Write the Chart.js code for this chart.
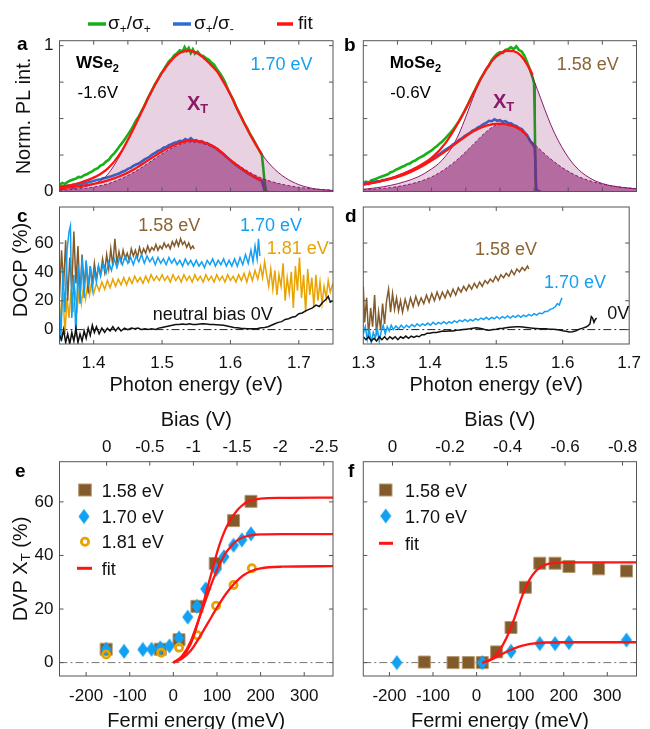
<!DOCTYPE html>
<html><head><meta charset="utf-8">
<script src="https://cdn.jsdelivr.net/npm/chart.js@4.4.0/dist/chart.umd.min.js"></script>
<style>
html,body{margin:0;padding:0;background:#fff;overflow:hidden;}
#wrap{position:relative;width:650px;height:729px;}
canvas{position:absolute;left:0;top:0;}
</style></head><body><div id="wrap">
<canvas id="ca" width="650" height="729"></canvas>
<canvas id="cb" width="650" height="729"></canvas>
<canvas id="cc" width="650" height="729"></canvas>
<canvas id="cd" width="650" height="729"></canvas>
<canvas id="ce" width="650" height="729"></canvas>
<canvas id="cf" width="650" height="729"></canvas>
</div>
<script>
// ---------------- DATA ----------------
// Panel a (WSe2, -1.6V): photon energy (eV), normalized PL
const aCoCo = [[1.350,.045],[1.354,.058],[1.358,.052],[1.362,.066],[1.366,.075],[1.370,.082],[1.374,.088],[1.378,.100],[1.382,.098],[1.386,.112],[1.390,.118],[1.394,.130],[1.398,.138],[1.402,.152],[1.406,.160],[1.410,.178],[1.414,.186],[1.418,.205],[1.422,.218],[1.426,.242],[1.430,.262],[1.434,.285],[1.438,.312],[1.442,.335],[1.446,.362],[1.450,.390],[1.454,.418],[1.458,.452],[1.462,.488],[1.466,.515],[1.470,.552],[1.474,.585],[1.478,.628],[1.482,.665],[1.486,.700],[1.490,.738],[1.494,.768],[1.498,.805],[1.502,.832],[1.506,.862],[1.510,.892],[1.514,.908],[1.518,.935],[1.522,.948],[1.526,.968],[1.530,.960],[1.533,.990],[1.536,.965],[1.539,.985],[1.542,.950],[1.545,.975],[1.548,.945],[1.552,.960],[1.556,.935],[1.560,.930],[1.564,.915],[1.568,.905],[1.572,.885],[1.576,.870],[1.580,.840],[1.584,.815],[1.588,.785],[1.592,.750],[1.596,.705],[1.600,.665],[1.604,.630],[1.608,.585],[1.612,.545],[1.616,.510],[1.620,.470],[1.624,.440],[1.628,.400],[1.632,.370],[1.636,.335],[1.640,.300],[1.644,.265],[1.646,.250],[1.648,.160],[1.650,.060],[1.652,.005],[1.654,0]];
const aCoCross = [[1.350,.030],[1.354,.036],[1.358,.030],[1.362,.040],[1.366,.038],[1.370,.045],[1.374,.042],[1.378,.052],[1.382,.050],[1.386,.058],[1.390,.060],[1.394,.066],[1.398,.070],[1.402,.075],[1.406,.080],[1.410,.084],[1.414,.090],[1.418,.094],[1.422,.100],[1.426,.105],[1.430,.112],[1.434,.118],[1.438,.125],[1.442,.135],[1.446,.142],[1.450,.155],[1.454,.162],[1.458,.175],[1.462,.185],[1.466,.192],[1.470,.205],[1.474,.218],[1.478,.228],[1.482,.240],[1.486,.255],[1.490,.265],[1.494,.278],[1.498,.285],[1.502,.300],[1.506,.305],[1.510,.318],[1.514,.325],[1.518,.335],[1.522,.338],[1.526,.348],[1.530,.345],[1.534,.360],[1.538,.350],[1.542,.365],[1.546,.348],[1.550,.352],[1.554,.340],[1.558,.345],[1.562,.330],[1.566,.332],[1.570,.318],[1.574,.310],[1.578,.300],[1.582,.285],[1.586,.270],[1.590,.255],[1.594,.238],[1.598,.222],[1.602,.205],[1.606,.190],[1.610,.175],[1.614,.162],[1.618,.150],[1.622,.135],[1.626,.122],[1.630,.112],[1.634,.102],[1.638,.092],[1.642,.082],[1.646,.072],[1.648,.040],[1.650,.005],[1.652,0]];
const aFitCo = [[1.35,.03],[1.36,.038],[1.37,.048],[1.38,.06],[1.39,.076],[1.40,.095],[1.41,.12],[1.42,.155],[1.43,.205],[1.44,.27],[1.45,.355],[1.46,.448],[1.47,.545],[1.48,.645],[1.49,.735],[1.50,.815],[1.51,.88],[1.52,.93],[1.53,.958],[1.54,.965],[1.55,.952],[1.56,.92],[1.57,.875],[1.58,.825],[1.59,.75],[1.60,.665],[1.61,.565],[1.62,.47],[1.63,.38],[1.64,.30],[1.646,.255]];
const aFitCross = [[1.35,.022],[1.36,.026],[1.38,.037],[1.40,.052],[1.42,.075],[1.44,.108],[1.46,.155],[1.48,.215],[1.50,.275],[1.52,.322],[1.54,.348],[1.56,.338],[1.58,.295],[1.60,.215],[1.62,.145],[1.64,.088],[1.646,.074]];
const aXtCo = [[1.35,.012],[1.36,.016],[1.38,.026],[1.40,.05],[1.41,.075],[1.42,.115],[1.43,.18],[1.44,.26],[1.45,.35],[1.46,.445],[1.47,.545],[1.48,.645],[1.49,.735],[1.50,.815],[1.51,.88],[1.52,.93],[1.53,.958],[1.54,.965],[1.55,.952],[1.56,.92],[1.57,.875],[1.58,.825],[1.59,.75],[1.60,.665],[1.61,.565],[1.62,.47],[1.63,.38],[1.64,.30],[1.65,.23],[1.66,.175],[1.67,.13],[1.68,.095],[1.69,.068],[1.70,.047],[1.71,.032],[1.72,.021],[1.735,.012],[1.75,.007]];
const aXtCross = [[1.35,.008],[1.36,.011],[1.38,.018],[1.40,.03],[1.42,.052],[1.44,.088],[1.46,.135],[1.48,.195],[1.50,.258],[1.52,.31],[1.54,.338],[1.56,.33],[1.58,.29],[1.60,.22],[1.62,.155],[1.64,.103],[1.66,.068],[1.68,.045],[1.70,.029],[1.72,.018],[1.75,.009]];

// Panel b (MoSe2, -0.6V)
const bCoCo = [[1.300,.060],[1.304,.068],[1.308,.062],[1.312,.078],[1.316,.082],[1.320,.090],[1.324,.098],[1.328,.105],[1.332,.112],[1.336,.118],[1.340,.132],[1.344,.138],[1.348,.150],[1.352,.158],[1.356,.168],[1.360,.175],[1.364,.186],[1.368,.192],[1.372,.205],[1.376,.212],[1.380,.225],[1.384,.235],[1.388,.245],[1.392,.258],[1.396,.270],[1.400,.282],[1.404,.298],[1.408,.312],[1.412,.330],[1.416,.345],[1.420,.365],[1.424,.385],[1.428,.405],[1.432,.428],[1.436,.455],[1.440,.482],[1.444,.515],[1.448,.548],[1.452,.585],[1.456,.625],[1.460,.665],[1.464,.700],[1.468,.738],[1.472,.775],[1.476,.805],[1.480,.838],[1.484,.862],[1.488,.900],[1.492,.925],[1.496,.945],[1.500,.955],[1.504,.950],[1.508,.970],[1.512,.975],[1.516,.990],[1.520,.975],[1.524,.995],[1.528,.970],[1.532,.960],[1.536,.930],[1.540,.885],[1.544,.835],[1.548,.780],[1.550,.740],[1.551,.500],[1.552,.150],[1.553,0],[1.556,-.008],[1.560,0]];
const bCoCross = [[1.300,.055],[1.304,.060],[1.308,.052],[1.312,.064],[1.316,.066],[1.320,.072],[1.324,.068],[1.328,.078],[1.332,.080],[1.336,.085],[1.340,.088],[1.344,.095],[1.348,.100],[1.352,.108],[1.356,.115],[1.360,.122],[1.364,.130],[1.368,.140],[1.372,.148],[1.376,.158],[1.380,.165],[1.384,.178],[1.388,.188],[1.392,.198],[1.396,.210],[1.400,.222],[1.404,.232],[1.408,.248],[1.412,.258],[1.416,.272],[1.420,.285],[1.424,.298],[1.428,.310],[1.432,.325],[1.436,.335],[1.440,.352],[1.444,.362],[1.448,.378],[1.452,.390],[1.456,.402],[1.460,.418],[1.464,.425],[1.468,.440],[1.472,.448],[1.476,.462],[1.480,.470],[1.484,.485],[1.488,.482],[1.492,.495],[1.496,.485],[1.500,.490],[1.504,.478],[1.508,.482],[1.512,.470],[1.516,.468],[1.520,.455],[1.524,.450],[1.528,.435],[1.532,.428],[1.536,.405],[1.540,.385],[1.544,.350],[1.548,.325],[1.551,.300],[1.552,.200],[1.553,.020],[1.554,-.005],[1.557,.003],[1.560,-.004]];
const bFitCo = [[1.30,.045],[1.32,.065],[1.34,.09],[1.36,.125],[1.38,.17],[1.40,.23],[1.42,.33],[1.44,.48],[1.46,.66],[1.47,.755],[1.48,.84],[1.49,.905],[1.50,.945],[1.51,.965],[1.52,.962],[1.53,.935],[1.54,.87],[1.548,.80]];
const bFitCross = [[1.30,.05],[1.32,.066],[1.34,.086],[1.36,.115],[1.38,.158],[1.40,.212],[1.42,.275],[1.44,.345],[1.46,.41],[1.48,.452],[1.50,.466],[1.52,.448],[1.53,.425],[1.54,.385]];
const bXtCo = [[1.30,.015],[1.32,.026],[1.34,.042],[1.36,.066],[1.38,.10],[1.39,.125],[1.40,.155],[1.41,.19],[1.42,.24],[1.43,.305],[1.44,.395],[1.45,.51],[1.46,.635],[1.47,.75],[1.48,.84],[1.49,.905],[1.50,.945],[1.51,.965],[1.52,.962],[1.53,.935],[1.54,.87],[1.55,.76],[1.56,.635],[1.57,.51],[1.58,.40],[1.59,.31],[1.60,.235],[1.61,.175],[1.62,.13],[1.63,.097],[1.64,.072],[1.65,.055],[1.66,.042],[1.68,.027],[1.70,.018]];
const bXtCross = [[1.30,.012],[1.32,.018],[1.34,.027],[1.36,.042],[1.38,.065],[1.40,.10],[1.42,.155],[1.44,.228],[1.46,.318],[1.48,.41],[1.495,.455],[1.51,.46],[1.525,.435],[1.54,.375],[1.555,.305],[1.57,.24],[1.59,.168],[1.61,.113],[1.63,.076],[1.65,.051],[1.67,.034],[1.70,.02]];

// Panel c (WSe2 DOCP %)
const c158 = [[1.350,22],[1.353,55],[1.356,30],[1.359,62],[1.362,20],[1.365,50],[1.368,28],[1.371,68],[1.374,32],[1.377,58],[1.380,22],[1.383,52],[1.386,30],[1.389,47],[1.392,25],[1.395,44],[1.398,32],[1.401,46],[1.404,35],[1.407,44],[1.410,38],[1.413,49],[1.416,40],[1.419,52],[1.422,42],[1.425,56],[1.428,44],[1.431,63],[1.434,46],[1.437,54],[1.440,47],[1.443,55],[1.446,49],[1.449,53],[1.452,48],[1.455,56],[1.458,51],[1.461,55],[1.464,50],[1.467,57],[1.470,52],[1.473,56],[1.476,53],[1.479,58],[1.482,54],[1.485,57],[1.488,55],[1.491,59],[1.494,55],[1.497,58],[1.500,56],[1.503,60],[1.506,57],[1.509,59],[1.512,56],[1.515,61],[1.518,58],[1.521,62],[1.524,58],[1.527,63],[1.530,59],[1.533,61],[1.536,57],[1.539,60],[1.542,56],[1.545,58],[1.547,56]];
const c170 = [[1.350,15],[1.352,-8],[1.355,42],[1.358,12],[1.361,55],[1.364,68],[1.366,72],[1.368,8],[1.371,38],[1.374,-5],[1.377,45],[1.380,18],[1.383,50],[1.386,22],[1.389,48],[1.392,30],[1.395,44],[1.398,28],[1.401,40],[1.404,33],[1.407,44],[1.410,37],[1.414,46],[1.418,39],[1.422,47],[1.426,41],[1.430,49],[1.434,43],[1.438,50],[1.442,45],[1.446,51],[1.450,46],[1.454,50],[1.458,45],[1.462,51],[1.466,47],[1.470,52],[1.474,46],[1.478,51],[1.482,47],[1.486,50],[1.490,45],[1.494,50],[1.498,46],[1.502,49],[1.506,45],[1.510,50],[1.514,46],[1.518,49],[1.522,45],[1.526,48],[1.530,44],[1.534,49],[1.538,45],[1.542,48],[1.546,44],[1.550,48],[1.554,44],[1.558,47],[1.562,43],[1.566,48],[1.570,45],[1.574,49],[1.578,44],[1.582,48],[1.586,45],[1.590,49],[1.594,44],[1.598,48],[1.602,44],[1.606,49],[1.610,44],[1.614,50],[1.618,45],[1.622,52],[1.626,46],[1.630,55],[1.633,47],[1.636,58],[1.639,49],[1.641,63],[1.643,51]];
const c181 = [[1.350,20],[1.352,5],[1.355,26],[1.358,-3],[1.361,22],[1.364,8],[1.367,28],[1.370,12],[1.373,26],[1.376,15],[1.379,30],[1.382,18],[1.385,29],[1.388,21],[1.391,31],[1.394,24],[1.397,33],[1.400,25],[1.404,32],[1.408,27],[1.412,33],[1.416,28],[1.420,34],[1.424,29],[1.428,35],[1.432,30],[1.436,35],[1.440,31],[1.444,36],[1.448,31],[1.452,36],[1.456,32],[1.460,37],[1.464,33],[1.468,36],[1.472,32],[1.476,37],[1.480,33],[1.484,38],[1.488,34],[1.492,37],[1.496,34],[1.500,38],[1.504,34],[1.508,37],[1.512,33],[1.516,38],[1.520,34],[1.524,37],[1.528,33],[1.532,38],[1.536,34],[1.540,37],[1.544,33],[1.548,38],[1.552,34],[1.556,37],[1.560,33],[1.564,38],[1.568,34],[1.572,37],[1.576,33],[1.580,38],[1.584,34],[1.588,37],[1.592,33],[1.596,38],[1.600,34],[1.604,37],[1.608,33],[1.612,38],[1.616,34],[1.620,39],[1.624,33],[1.628,40],[1.632,34],[1.636,41],[1.640,35],[1.644,44],[1.647,36],[1.650,47],[1.653,38],[1.656,30],[1.659,42],[1.662,28],[1.665,41],[1.668,24],[1.671,38],[1.674,30],[1.677,46],[1.680,20],[1.683,36],[1.686,25],[1.689,40],[1.692,15],[1.695,44],[1.698,27],[1.701,50],[1.704,22],[1.707,38],[1.710,12],[1.713,42],[1.716,24],[1.719,36],[1.722,16],[1.725,38],[1.728,20],[1.731,33],[1.734,18],[1.737,30],[1.740,22],[1.743,34],[1.746,26],[1.750,32]];
const c0V = [[1.350,-4],[1.353,-7],[1.356,0],[1.359,-9],[1.362,-3],[1.365,-10],[1.368,-2],[1.371,-8],[1.374,1],[1.377,-9],[1.380,-3],[1.383,-8],[1.386,-1],[1.389,-6],[1.392,1],[1.395,-4],[1.398,3],[1.401,-2],[1.404,2],[1.408,-3],[1.412,1],[1.416,-2],[1.420,1],[1.424,-1],[1.428,2],[1.432,-1],[1.436,1.5],[1.440,-1],[1.445,1],[1.450,0],[1.455,1],[1.460,0.5],[1.465,1],[1.470,0],[1.475,0.5],[1.480,0],[1.485,0.5],[1.490,0],[1.495,1],[1.500,1.5],[1.505,2],[1.510,2.5],[1.515,3],[1.520,3.5],[1.525,3.5],[1.530,3.8],[1.535,3.5],[1.540,4],[1.545,3.6],[1.550,3.5],[1.555,3.8],[1.560,4],[1.565,3.8],[1.570,3.5],[1.575,3.6],[1.580,3.4],[1.585,3.2],[1.590,3],[1.595,2.5],[1.600,2],[1.605,1.5],[1.610,1.3],[1.615,1],[1.620,0.8],[1.625,0.6],[1.630,0.5],[1.635,0.6],[1.640,0.8],[1.645,1.2],[1.650,1.5],[1.655,2],[1.660,3],[1.665,4],[1.670,5],[1.675,5.5],[1.680,7],[1.685,7.5],[1.690,8.5],[1.695,9],[1.700,11],[1.705,11.5],[1.710,13],[1.715,14],[1.720,15],[1.725,17],[1.730,16],[1.735,19],[1.740,21],[1.743,23],[1.746,19],[1.750,20]];

// Panel d (MoSe2 DOCP %)
const d158 = [[1.300,30],[1.302,5],[1.305,22],[1.308,-5],[1.311,15],[1.314,2],[1.317,24],[1.320,-4],[1.323,12],[1.326,0],[1.329,18],[1.332,4],[1.335,20],[1.338,28],[1.341,12],[1.344,25],[1.347,14],[1.350,22],[1.353,13],[1.356,20],[1.359,12],[1.363,21],[1.367,14],[1.371,22],[1.375,16],[1.379,23],[1.383,17],[1.387,22],[1.391,18],[1.395,24],[1.399,19],[1.403,25],[1.407,20],[1.411,26],[1.415,21],[1.419,26],[1.423,22],[1.427,27],[1.431,23],[1.435,28],[1.439,24],[1.443,29],[1.447,26],[1.451,30],[1.455,27],[1.459,31],[1.463,28],[1.467,32],[1.471,29],[1.475,33],[1.479,30],[1.483,34],[1.487,32],[1.491,35],[1.495,33],[1.499,37],[1.503,34],[1.507,38],[1.511,36],[1.515,39],[1.519,37],[1.523,41],[1.527,38],[1.531,42],[1.535,40],[1.539,43],[1.543,41],[1.547,44],[1.549,42]];
const d170 = [[1.300,-3],[1.303,2],[1.306,-7],[1.309,0],[1.312,-9],[1.315,-2],[1.318,-6],[1.321,1],[1.324,-8],[1.327,-1],[1.330,3],[1.333,-3],[1.336,2],[1.339,-1],[1.342,3],[1.345,0],[1.349,2.5],[1.353,0.5],[1.357,3],[1.361,1],[1.365,3],[1.369,1.5],[1.373,3.5],[1.377,2],[1.381,4],[1.385,2.5],[1.389,4],[1.393,3],[1.397,4.5],[1.401,3],[1.405,5],[1.409,3.5],[1.413,5],[1.417,4],[1.421,5.5],[1.425,4],[1.429,5.5],[1.433,4.5],[1.437,6],[1.441,5],[1.445,6.5],[1.449,5.5],[1.453,7],[1.457,5.5],[1.461,7],[1.465,6],[1.469,7.5],[1.473,6.5],[1.477,8],[1.481,7],[1.485,8.5],[1.489,7],[1.493,8.5],[1.497,7.5],[1.501,9],[1.505,7.5],[1.509,9],[1.513,8],[1.517,9.5],[1.521,8],[1.525,9.5],[1.529,8.5],[1.533,10],[1.537,8.5],[1.541,10],[1.545,9],[1.549,10.5],[1.553,9.5],[1.557,11],[1.561,10],[1.565,11.5],[1.569,11],[1.573,12.5],[1.577,12.5],[1.581,14],[1.585,14.5],[1.589,16],[1.592,18],[1.595,17],[1.597,20],[1.599,22]];
const d0V = [[1.300,-5],[1.304,-7],[1.308,-5],[1.312,-8],[1.316,-6],[1.320,-8],[1.324,-5],[1.328,-7],[1.332,-5],[1.336,-7],[1.340,-5],[1.344,-6.5],[1.348,-5],[1.352,-7],[1.356,-5],[1.360,-6],[1.364,-4.5],[1.368,-6],[1.372,-4.5],[1.376,-5.5],[1.380,-4.5],[1.384,-5],[1.388,-3.5],[1.392,-3.5],[1.396,-2.5],[1.400,-2.5],[1.405,-2],[1.410,-2],[1.415,-1.5],[1.420,-1],[1.425,-1.2],[1.430,-0.8],[1.435,-1],[1.440,-0.5],[1.445,-0.3],[1.450,0],[1.455,0.3],[1.460,0.5],[1.465,1],[1.470,1.2],[1.475,1],[1.480,0.5],[1.485,-0.3],[1.490,-0.5],[1.495,0],[1.500,0.3],[1.505,0.8],[1.510,1],[1.515,1.3],[1.520,1.6],[1.525,1.8],[1.530,2],[1.535,2],[1.540,1.8],[1.545,1.5],[1.550,1.2],[1.555,1],[1.560,0.8],[1.565,0.6],[1.570,0.5],[1.575,0.5],[1.580,0.3],[1.585,0.2],[1.590,0],[1.595,-0.3],[1.600,-0.8],[1.605,-1.2],[1.610,-1.6],[1.615,-1.5],[1.620,-0.8],[1.625,0.3],[1.630,1],[1.635,1.8],[1.638,2.5],[1.641,4],[1.643,9],[1.645,8],[1.647,5],[1.649,7],[1.651,8]];

// Panel e (WSe2 DVP vs Fermi energy, meV / %)
const eE158 = [-154,-30,13,54,96,138,178];
const eV158 = [5,5,8.5,21,37,53,60.2];
const eE170 = [-154,-113,-70,-50,-30,-9,13,33,54,74,98,116,138,157,178];
const eV170 = [5,4.2,4.9,5,5.5,6.2,9.2,17,21,27.5,34.8,39.5,43.8,45.8,48.1];
const eE181 = [-154,-28,13,55,98,138,180];
const eV181 = [3,3.7,5.6,10.2,21.2,29,35.2];
const eFit158 = [[0,0],[20,2],[40,7],[60,17],[80,29],[90,35],[100,41],[110,46],[120,50],[130,53],[140,55.5],[150,57.5],[160,59],[170,60],[180,60.6],[200,61.2],[250,61.5],[366,61.6]];
const eFit170 = [[0,0],[20,2.5],[40,8],[60,17],[80,26],[90,30.5],[100,34.5],[110,38],[120,41],[130,43],[140,44.8],[150,46],[160,46.8],[180,47.6],[200,47.9],[250,48],[366,48]];
const eFit181 = [[0,0],[20,1.5],[40,4.5],[60,9.5],[80,15],[100,20.5],[120,25.5],[140,29.5],[160,32.5],[180,34.3],[200,35.2],[250,35.8],[366,36]];

// Panel f (MoSe2 DVP vs Fermi energy)
const fE158 = [-120,-54,-19,13,46,79,112,145,180,212,280,344];
const fV158 = [0.2,0,0,0,4,13.1,28.1,37.1,37.1,35.9,35,34.2];
const fE170 = [-183,13,79,145,180,212,344];
const fV170 = [0,0,4.2,7.1,7.1,7.5,8.4];
const fFit158 = [[13,0],[30,1],[45,3],[60,6.5],[75,11.5],[90,18],[105,25],[120,30.5],[135,34],[150,36],[165,36.9],[180,37.2],[200,37.4],[250,37.4],[366,37.4]];
const fFit170 = [[13,0],[30,0.8],[45,2],[60,3.3],[75,4.5],[90,5.5],[105,6.3],[120,6.9],[140,7.3],[160,7.5],[200,7.6],[366,7.6]];

// Tick values / labels
const aXTicks = [1.40,1.45,1.50,1.55,1.60,1.65,1.70];
const bXTicks = [1.35,1.40,1.45,1.50,1.55,1.60,1.65];
const plYTicks = [0,0.25,0.5,0.75,1];
const plYLabels = ['0','','','','1'];
const cXTicks = [1.4,1.5,1.6,1.7];
const cXLabels = ['1.4','1.5','1.6','1.7'];
const dXTicks = [1.3,1.4,1.5,1.6,1.7];
const dXLabels = ['1.3','1.4','1.5','1.6','1.7'];
const docpTicks = [0,20,40,60];
const docpLabels = ['0','20','40','60'];
const fermiTicks = [-200,-100,0,100,200,300];
const fermiLabels = ['-200','-100','0','100','200','300'];
const dvpTicks = [0,20,40,60];
const dvpLabels = ['0','20','40','60'];
const eBiasTickE = [-153,-54,46,146,245,345];
const eBiasLabels = ['0','-0.5','-1','-1.5','-2','-2.5'];
const fBiasTickE = [-193,-61,71,203,335];
const fBiasLabels = ['0','-0.2','-0.4','-0.6','-0.8'];

// ---------------- STYLE ----------------
const FONT = "'Liberation Sans', Arial, Helvetica, sans-serif";
Chart.defaults.font.family = FONT;
Chart.defaults.color = '#111';
const COL = {green:'#17b017', blueD:'#2b6fd2', red:'#ff1414', purple:'#8b1a6b', brown:'#835b2b', brownT:'#8a6434', lblue:'#12a0f2', orange:'#e9a300', black:'#111'};

const P = arr => arr.map(p => ({x:p[0], y:p[1]}));
const XY = (xs, ys) => xs.map((x,i) => ({x, y:ys[i]}));

function mkScale(o){
  const horiz = (o.pos==='top'||o.pos==='bottom');
  return {
    type:'linear', position:o.pos, min:o.min, max:o.max,
    grid:{display:false, drawTicks:false}, border:{display:false},
    afterBuildTicks:(sc)=>{ sc.ticks = o.ticks.map(v=>({value:v})); },
    afterFit:(sc)=>{ if(horiz) sc.height=o.size; else sc.width=o.size; },
    ticks:{display:!!o.labels, autoSkip:false, maxRotation:0, minRotation:0, padding:o.pad||0, color:'#111', font:{size:17, family:FONT},
      callback:(v,i)=> o.labels ? o.labels[i] : ''},
    title:{display:!!o.title, text:o.title||'', color:'#111', font:{size:20, family:FONT}, padding:o.tpad||0}
  };
}

function txt(ctx, s, x, y, size, bold, color){
  ctx.font = (bold?'bold ':'') + size + 'px ' + FONT;
  ctx.fillStyle = color; ctx.textAlign='left'; ctx.textBaseline='alphabetic';
  ctx.fillText(s, x, y);
}
function rich(ctx, x, y, parts, center){
  ctx.textAlign='left'; ctx.textBaseline='alphabetic';
  let w = 0;
  parts.forEach(p=>{ ctx.font=(p[2]?'bold ':'')+p[1]+'px '+FONT; w += ctx.measureText(p[0]).width; });
  let cx = center ? x - w/2 : x;
  parts.forEach(p=>{ ctx.font=(p[2]?'bold ':'')+p[1]+'px '+FONT; ctx.fillStyle=p[3]; ctx.fillText(p[0], cx, y+(p[4]||0)); cx += ctx.measureText(p[0]).width; });
}
function rotTitle(ctx, cx, cy, parts){
  ctx.save(); ctx.translate(cx, cy); ctx.rotate(-Math.PI/2);
  rich(ctx, 0, 7.2, parts, true);
  ctx.restore();
}
function hline(ctx, x1, x2, y, color, w){
  ctx.save(); ctx.strokeStyle=color; ctx.lineWidth=w; ctx.beginPath(); ctx.moveTo(x1,y); ctx.lineTo(x2,y); ctx.stroke(); ctx.restore();
}
function diamondImg(color){
  const c=document.createElement('canvas'); c.width=12; c.height=16;
  const g=c.getContext('2d'); g.fillStyle=color; g.beginPath();
  g.moveTo(6,0.5); g.lineTo(11.5,8); g.lineTo(6,15.5); g.lineTo(0.5,8); g.closePath(); g.fill();
  return c;
}
const DIAMOND = diamondImg(COL.lblue);

function frame(zeroColor, topId, drawFn){
  return {
    id:'frame',
    beforeDatasetsDraw(chart){
      if(!zeroColor) return;
      const {left,right} = chart.chartArea; const y = chart.scales.y.getPixelForValue(0);
      const ctx = chart.ctx; ctx.save(); ctx.strokeStyle=zeroColor; ctx.lineWidth=1; ctx.setLineDash([8,3,2,3]);
      ctx.beginPath(); ctx.moveTo(left,y); ctx.lineTo(right,y); ctx.stroke(); ctx.restore();
    },
    afterDatasetsDraw(chart){
      const ctx = chart.ctx; const {left,right,top,bottom} = chart.chartArea;
      ctx.save(); ctx.strokeStyle='#555'; ctx.lineWidth=1;
      ctx.strokeRect(left, top, right-left, bottom-top);
      const L = 4; ctx.beginPath();
      const xs = chart.scales.x;
      xs.ticks.forEach(t=>{ const p = xs.getPixelForValue(t.value); if(p<=left+1||p>=right-1) return;
        ctx.moveTo(p,bottom); ctx.lineTo(p,bottom-L); if(!topId){ ctx.moveTo(p,top); ctx.lineTo(p,top+L);} });
      if(topId){ const ts = chart.scales[topId]; ts.ticks.forEach(t=>{ const p = ts.getPixelForValue(t.value); if(p<=left+1||p>=right-1) return; ctx.moveTo(p,top); ctx.lineTo(p,top+L); }); }
      const ys = chart.scales.y;
      ys.ticks.forEach(t=>{ const p = ys.getPixelForValue(t.value); if(p<=top+1||p>=bottom-1) return;
        ctx.moveTo(left,p); ctx.lineTo(left+L,p); ctx.moveTo(right,p); ctx.lineTo(right-L,p); });
      ctx.stroke(); ctx.restore();
    },
    afterDraw(chart){ if(drawFn){ chart.ctx.save(); drawFn(chart.ctx, chart); chart.ctx.restore(); } }
  };
}

function mkChart(id, area, scales, sizes, datasets, drawFn, zeroColor, topId){
  const pad = {left: area.l - sizes.yW, right: 650 - area.r, top: area.t - (sizes.topH||0), bottom: 729 - area.b - sizes.botH};
  return new Chart(document.getElementById(id), {
    type:'line',
    data:{datasets},
    options:{responsive:false, animation:false, events:[], devicePixelRatio:1,
      layout:{padding:pad}, plugins:{legend:{display:false}, tooltip:{enabled:false}},
      elements:{point:{radius:0}}, scales},
    plugins:[frame(zeroColor, topId, drawFn)]
  });
}

const AREA = {
  a:{l:59.5,t:40.7,r:333,b:191.5}, b:{l:363.3,t:40.7,r:636.5,b:191.5},
  c:{l:59.5,t:207,r:333,b:344},    d:{l:363.3,t:207,r:636.5,b:344},
  e:{l:59.5,t:461.7,r:333,b:676},  f:{l:363.3,t:461.7,r:636.5,b:676}
};

const FILL_LIGHT = 'rgba(139,26,107,0.20)';
const FILL_DARK = 'rgba(139,26,107,0.55)';
function plSets(coco, cross, fitCo, fitCross, xtCo, xtCross){
  return [
    {data:P(coco), borderColor:COL.green, borderWidth:2.6, pointRadius:0, order:6},
    {data:P(cross), borderColor:COL.blueD, borderWidth:2.6, pointRadius:0, order:5},
    {data:P(xtCo), borderColor:COL.purple, borderWidth:1, backgroundColor:FILL_LIGHT, fill:'origin', pointRadius:0, cubicInterpolationMode:'monotone', order:4},
    {data:P(xtCross), borderColor:COL.purple, borderWidth:1, borderDash:[3,2], backgroundColor:FILL_DARK, fill:'origin', pointRadius:0, cubicInterpolationMode:'monotone', order:3},
    {data:P(fitCo), borderColor:COL.red, borderWidth:2.3, pointRadius:0, cubicInterpolationMode:'monotone', order:1},
    {data:P(fitCross), borderColor:COL.red, borderWidth:2.3, pointRadius:0, cubicInterpolationMode:'monotone', order:0}
  ];
}
function noisy(arr, color, order){ return {data:P(arr), borderColor:color, borderWidth:1.5, pointRadius:0, order}; }

// ---------------- PANEL a ----------------
mkChart('ca', AREA.a, {
  x: mkScale({pos:'bottom', min:1.35, max:1.75, ticks:aXTicks, size:1}),
  y: mkScale({pos:'left', min:0, max:1.034, ticks:plYTicks, labels:plYLabels, size:59.5, pad:6})
}, {yW:59.5, botH:1}, plSets(aCoCo, aCoCross, aFitCo, aFitCross, aXtCo, aXtCross), (ctx)=>{
  txt(ctx,'a',17,50,19,true,'#000');
  rich(ctx,76,68.3,[['WSe',17,true,'#000'],['2',11,true,'#000',3.5]]);
  txt(ctx,'-1.6V',77.5,98.3,17,false,'#000');
  txt(ctx,'1.70 eV',250.5,70,18,false,COL.lblue);
  rich(ctx,187,110,[['X',20,true,COL.purple],['T',13,true,COL.purple,3]]);
  rotTitle(ctx,23,116,[['Norm. PL int.',20,false,'#111']]);
  // top legend
  hline(ctx,88,106,24,COL.green,3.5);
  rich(ctx,108,29,[['σ',19,false,'#111'],['+',12,false,'#111',4],['/',19,false,'#111'],['σ',19,false,'#111'],['+',12,false,'#111',4]]);
  hline(ctx,173,191,24,COL.blueD,3.5);
  rich(ctx,194,29,[['σ',19,false,'#111'],['+',12,false,'#111',4],['/',19,false,'#111'],['σ',19,false,'#111'],['-',12,false,'#111',4]]);
  hline(ctx,277,293,24,COL.red,3.5);
  txt(ctx,'fit',298,29,19,false,'#111');
});

// ---------------- PANEL b ----------------
mkChart('cb', AREA.b, {
  x: mkScale({pos:'bottom', min:1.3, max:1.7, ticks:bXTicks, size:1}),
  y: mkScale({pos:'left', min:0, max:1.034, ticks:plYTicks, size:10})
}, {yW:10, botH:1}, plSets(bCoCo, bCoCross, bFitCo, bFitCross, bXtCo, bXtCross), (ctx)=>{
  txt(ctx,'b',344,51,19,true,'#000');
  rich(ctx,389.7,68.3,[['MoSe',17,true,'#000'],['2',11,true,'#000',3.5]]);
  txt(ctx,'-0.6V',390.3,98.3,17,false,'#000');
  txt(ctx,'1.58 eV',556.7,70,18,false,COL.brownT);
  rich(ctx,493,108,[['X',20,true,COL.purple],['T',13,true,COL.purple,3]]);
});

// ---------------- PANEL c ----------------
mkChart('cc', AREA.c, {
  x: mkScale({pos:'bottom', min:1.35, max:1.75, ticks:cXTicks, labels:cXLabels, size:53, pad:9, title:'Photon energy (eV)'}),
  y: mkScale({pos:'left', min:-10, max:85, ticks:docpTicks, labels:docpLabels, size:59.5, pad:6})
}, {yW:59.5, botH:53}, [
  noisy(c181, COL.orange, 4), noisy(c158, COL.brown, 3), noisy(c170, COL.lblue, 2), noisy(c0V, COL.black, 1)
], (ctx)=>{
  txt(ctx,'c',17,221.7,19,true,'#000');
  txt(ctx,'1.58 eV',138.3,231,18,false,COL.brownT);
  txt(ctx,'1.70 eV',240,231,18,false,COL.lblue);
  txt(ctx,'1.81 eV',266.7,254,18,false,COL.orange);
  txt(ctx,'neutral bias 0V',152.7,319.5,18,false,'#111');
  rotTitle(ctx,19.5,270,[['DOCP (%)',20,false,'#111']]);
}, '#222');

// ---------------- PANEL d ----------------
mkChart('cd', AREA.d, {
  x: mkScale({pos:'bottom', min:1.3, max:1.7, ticks:dXTicks, labels:dXLabels, size:53, pad:9, title:'Photon energy (eV)'}),
  y: mkScale({pos:'left', min:-10, max:85, ticks:docpTicks, size:10})
}, {yW:10, botH:53}, [
  noisy(d158, COL.brown, 3), noisy(d170, COL.lblue, 2), noisy(d0V, COL.black, 1)
], (ctx)=>{
  txt(ctx,'d',345,222,19,true,'#000');
  txt(ctx,'1.58 eV',475,254.5,18,false,COL.brownT);
  txt(ctx,'1.70 eV',544,288.3,18,false,COL.lblue);
  txt(ctx,'0V',607.3,319,18,false,'#111');
}, '#222');

// ---------------- PANEL e / f helpers ----------------
function fitSet(arr, order){ return {data:P(arr), borderColor:COL.red, borderWidth:2.3, pointRadius:0, cubicInterpolationMode:'monotone', order}; }
function squares(xs, ys){ return {type:'scatter', data:XY(xs,ys), pointStyle:'rect', pointRadius:8.5, pointBackgroundColor:COL.brown, pointBorderColor:'#b39a74', pointBorderWidth:1, order:6}; }
function diamonds(xs, ys){ return {type:'scatter', data:XY(xs,ys), pointStyle:DIAMOND, pointRadius:7, order:5}; }
function rings(xs, ys){ return {type:'scatter', data:XY(xs,ys), pointStyle:'circle', pointRadius:3.6, pointBackgroundColor:'rgba(0,0,0,0)', pointBorderColor:COL.orange, pointBorderWidth:2.8, order:4}; }
function legSquare(ctx,x,y){ ctx.fillStyle=COL.brown; ctx.fillRect(x-6.3,y-6,12.6,12); ctx.strokeStyle='#b39a74'; ctx.lineWidth=1; ctx.strokeRect(x-6.3,y-6,12.6,12); }
function legDiamond(ctx,x,y){ ctx.drawImage(DIAMOND, x-6, y-8); }
function legRing(ctx,x,y){ ctx.beginPath(); ctx.arc(x,y,3.6,0,Math.PI*2); ctx.strokeStyle=COL.orange; ctx.lineWidth=2.8; ctx.stroke(); }

// ---------------- PANEL e ----------------
mkChart('ce', AREA.e, {
  x: mkScale({pos:'bottom', min:-261, max:366, ticks:fermiTicks, labels:fermiLabels, size:53, pad:10.5, title:'Fermi energy (meV)', tpad:{top:0,bottom:-4}}),
  xt: mkScale({pos:'top', min:-261, max:366, ticks:eBiasTickE, labels:eBiasLabels, size:53.4, pad:4.5, title:'Bias (V)', tpad:0}),
  y: mkScale({pos:'left', min:-5, max:75, ticks:dvpTicks, labels:dvpLabels, size:59.5, pad:6})
}, {yW:59.5, botH:53, topH:53.4}, [
  squares(eE158, eV158), diamonds(eE170, eV170), rings(eE181, eV181),
  fitSet(eFit158,2), fitSet(eFit170,1), fitSet(eFit181,0)
], (ctx)=>{
  txt(ctx,'e',15,477,19,true,'#000');
  rotTitle(ctx,20,569,[['DVP X',20,false,'#111'],['T',13,false,'#111',3],[' (%)',20,false,'#111']]);
  legSquare(ctx,85,490); txt(ctx,'1.58 eV',101.7,496.5,18,false,'#111');
  legDiamond(ctx,84,516.5); txt(ctx,'1.70 eV',101.7,522.5,18,false,'#111');
  legRing(ctx,85,541.7); txt(ctx,'1.81 eV',101.7,548,18,false,'#111');
  hline(ctx,77,92,568.3,COL.red,3); txt(ctx,'fit',101.7,574.5,18,false,'#111');
}, '#777', 'xt');

// ---------------- PANEL f ----------------
mkChart('cf', AREA.f, {
  x: mkScale({pos:'bottom', min:-260, max:367, ticks:fermiTicks, labels:fermiLabels, size:53, pad:10.5, title:'Fermi energy (meV)', tpad:{top:0,bottom:-4}}),
  xt: mkScale({pos:'top', min:-260, max:367, ticks:fBiasTickE, labels:fBiasLabels, size:53.4, pad:4.5, title:'Bias (V)', tpad:0}),
  y: mkScale({pos:'left', min:-5, max:75, ticks:dvpTicks, size:10})
}, {yW:10, botH:53, topH:53.4}, [
  squares(fE158, fV158), diamonds(fE170, fV170),
  fitSet(fFit158,1), fitSet(fFit170,0)
], (ctx)=>{
  txt(ctx,'f',348,477,19,true,'#000');
  legSquare(ctx,385.7,490); txt(ctx,'1.58 eV',405,496.5,18,false,'#111');
  legDiamond(ctx,385.7,516); txt(ctx,'1.70 eV',405,522.5,18,false,'#111');
  hline(ctx,379,393,543.3,COL.red,3); txt(ctx,'fit',405,549.5,18,false,'#111');
}, '#777', 'xt');
</script></body></html>
